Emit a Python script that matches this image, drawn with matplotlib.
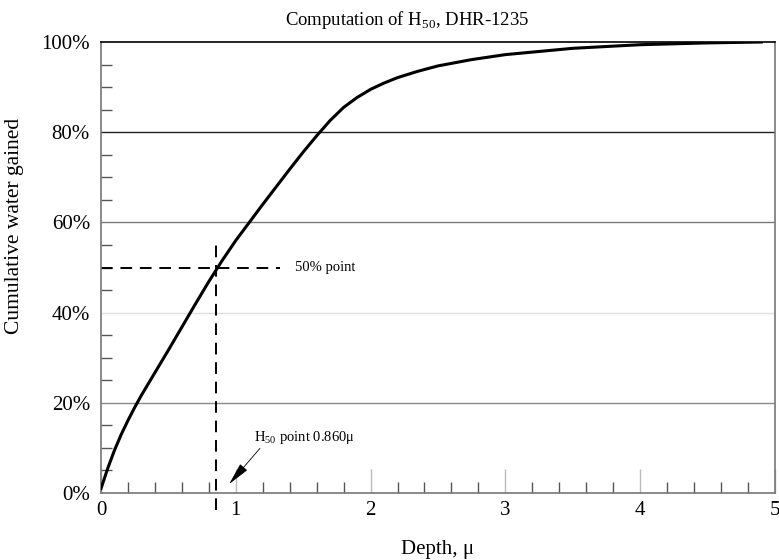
import matplotlib.pyplot as plt
from matplotlib.ticker import MultipleLocator, PercentFormatter

plt.rcParams['font.family'] = ['Liberation Serif', 'DejaVu Serif']
plt.rcParams['mathtext.fontset'] = 'custom'
plt.rcParams['mathtext.rm'] = 'Liberation Serif'

# cumulative water gained vs depth
depth = [0.0, 0.05, 0.1, 0.15, 0.2, 0.25, 0.3, 0.4, 0.5, 0.6, 0.7, 0.8, 0.9,
         1.0, 1.1, 1.2, 1.3, 1.4, 1.5, 1.6, 1.7, 1.8, 1.9, 2.0, 2.1, 2.2,
         2.35, 2.5, 2.75, 3.0, 3.5, 4.0, 4.5, 4.9]
gained = [0.01, 0.055, 0.095, 0.13, 0.161, 0.19, 0.217, 0.267, 0.317,
          0.368, 0.419, 0.469, 0.516, 0.56, 0.6, 0.64, 0.679, 0.718, 0.756,
          0.792, 0.826, 0.855, 0.877, 0.895, 0.909, 0.921, 0.935, 0.947,
          0.961, 0.972, 0.986, 0.994, 0.998, 1.0]

h50_x = 0.85
h50_label = 0.860
grid_levels = [0.2, 0.4, 0.6, 0.8]
grid_colors = ['#8a8a8a', '#e0e0e0', '#7a7a7a', '#222222']

fig = plt.figure(figsize=[7.79, 5.6], dpi=100)
ax = fig.add_axes([0.1297, 0.1196, 0.865, 0.8054])

for lvl, c in zip(grid_levels, grid_colors):
	ax.axhline(lvl, color=c, lw=1.0, zorder=1)

ax.plot(depth, gained, color='black', lw=2.2, zorder=3, solid_joinstyle='round')

# 50% point guides
ax.plot([0, 1.33], [0.5, 0.5], color='black', lw=1.4, ls=(0, (6, 4)), zorder=2)
ax.plot([h50_x, h50_x], [-0.038, 0.565], color='black', lw=1.4, ls=(0, (6, 4)),
	zorder=2, clip_on=False)
ax.text(1.44, 0.5, '50% point', fontsize=10.5, va='center', ha='left')

ax.annotate('H$_{50}$ point %.3fμ' % h50_label, xy=(0.951, 0.02), xytext=(1.137, 0.124),
	fontsize=10.5, ha='left', va='center',
	arrowprops=dict(arrowstyle='-|>,head_length=1.35,head_width=0.28', color='black',
		lw=0.6, shrinkA=0, shrinkB=0, relpos=(0.08, 0.0)))

ax.set_xlim(0, 5)
ax.set_ylim(0, 1)
ax.xaxis.set_major_locator(MultipleLocator(1))
ax.xaxis.set_minor_locator(MultipleLocator(0.2))
ax.yaxis.set_major_locator(MultipleLocator(0.2))
ax.yaxis.set_minor_locator(MultipleLocator(0.05))
ax.yaxis.set_major_formatter(PercentFormatter(1.0, decimals=0))

ax.tick_params(axis='x', which='major', direction='in', length=17, width=1,
	color='#bbbbbb', labelsize=15, pad=6)
ax.tick_params(axis='x', which='minor', direction='in', length=8, width=1, color='#555555')
ax.tick_params(axis='y', which='major', direction='in', length=0, labelsize=15, pad=8)
ax.tick_params(axis='y', which='minor', direction='in', length=8, width=1, color='#555555')

for s in ['left', 'bottom', 'right']:
	ax.spines[s].set_color('#777777')
	ax.spines[s].set_linewidth(1.2)
ax.spines['top'].set_color('black')
ax.spines['top'].set_linewidth(1.2)

ax.set_title('Computation of H$_{50}$, DHR-1235', fontsize=13.5, pad=12, x=0.454)
ax.set_xlabel('Depth, μ', fontsize=15, labelpad=14)
ax.set_ylabel('Cumulative water gained', fontsize=15.5, labelpad=12)
ax.yaxis.set_label_coords(-0.114, 0.592)

plt.savefig('out.png', dpi=100)
